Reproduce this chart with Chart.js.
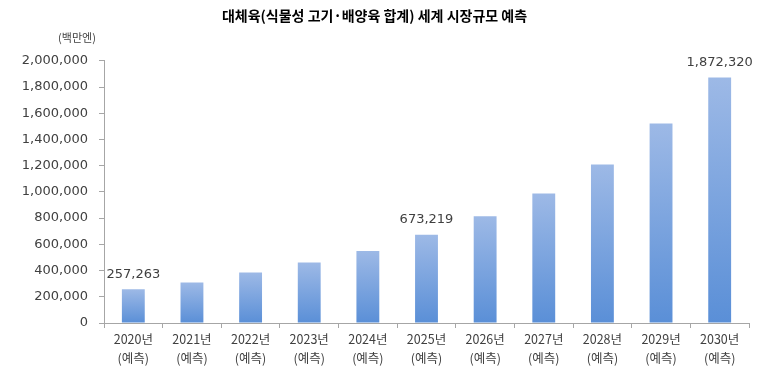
<!DOCTYPE html>
<html>
<head>
<meta charset="utf-8">
<script src="https://cdn.jsdelivr.net/npm/chart.js@4"></script>
<style>
  body { margin: 0; background: #fff; }
  #wrap { width: 760px; height: 374px; }
</style>
</head>
<body>
<div id="wrap"><canvas id="marketChart"></canvas></div>
<script>
const title = '대체육(식물성 고기·배양육 합계) 세계 시장규모 예측'
const unitLabel = '(백만엔)'

const years = ['2020년', '2021년', '2022년', '2023년', '2024년', '2025년', '2026년', '2027년', '2028년', '2029년', '2030년']
const values = [257263, 308000, 385000, 461000, 550000, 673219, 815000, 988000, 1209000, 1522000, 1872320]
const labelled = [0, 5, 10]
const yTicks = [0, 200000, 400000, 600000, 800000, 1000000, 1200000, 1400000, 1600000, 1800000, 2000000]

const textColor = '#404040'
const axisColor = '#a6a6a6'

function barGradient(context) {
    const chart = context.chart
    const area = chart.chartArea
    if (!area || context.parsed === undefined) return '#7aa3de'
    const y = chart.scales.y
    const top = y.getPixelForValue(context.parsed.y)
    const bottom = y.getPixelForValue(0)
    const g = chart.ctx.createLinearGradient(0, top, 0, bottom)
    g.addColorStop(0, '#9db9e6')
    g.addColorStop(1, '#5a8fd7')
    return g
}

// value labels above a few bars + unit label
const valueLabels = {
    id: 'valueLabels',
    afterDatasetsDraw(chart) {
        const ctx = chart.ctx
        const meta = chart.getDatasetMeta(0)
        ctx.save()
        ctx.fillStyle = textColor
        ctx.font = '13px "DejaVu Sans"'
        ctx.textAlign = 'center'
        ctx.textBaseline = 'middle'
        labelled.forEach(i => {
            const bar = meta.data[i]
            ctx.fillText(values[i].toLocaleString('en-US'), bar.x, bar.y - 15)
        })
        ctx.font = '11px "Noto Sans CJK KR"'
        ctx.fillText(unitLabel, 77, 38)
        ctx.restore()
    }
}

const ctx = document.getElementById('marketChart')
const chart = new Chart(ctx, {
    type: 'bar',
    data: {
        labels: years.map(y => [y, '(예측)']),
        datasets: [{
            data: values,
            backgroundColor: barGradient,
            barPercentage: 0.39,
            categoryPercentage: 1.0
        }]
    },
    options: {
        responsive: true,
        maintainAspectRatio: false,
        animation: false,
        layout: { padding: { left: 0, right: 11, top: 0, bottom: 0 } },
        plugins: {
            legend: { display: false },
            tooltip: { enabled: false },
            title: {
                display: true,
                text: title,
                color: '#000',
                font: { family: '"Noto Sans CJK KR"', size: 14, weight: 'bold' },
                padding: { top: 7, bottom: 37 }
            }
        },
        scales: {
            x: {
                grid: { display: true, drawOnChartArea: false, offset: true, color: axisColor, tickLength: 5 },
                border: { color: axisColor },
                ticks: {
                    color: textColor,
                    font: { family: '"Noto Sans CJK KR"', size: 12.5, lineHeight: 1.5 },
                    padding: 2,
                    maxRotation: 0,
                    autoSkip: false
                },
                afterFit(scale) { scale.height = 51 }
            },
            y: {
                min: 0,
                max: 2000000,
                afterBuildTicks(scale) { scale.ticks = yTicks.map(v => ({ value: v })) },
                grid: { display: true, drawOnChartArea: false, color: axisColor, tickLength: 5 },
                border: { color: axisColor },
                ticks: {
                    color: textColor,
                    font: { family: '"DejaVu Sans"', size: 13 },
                    padding: 11,
                    callback: v => v.toLocaleString('en-US')
                },
                afterFit(scale) { scale.width = 104 }
            }
        }
    },
    plugins: [valueLabels]
})
</script>
</body>
</html>
